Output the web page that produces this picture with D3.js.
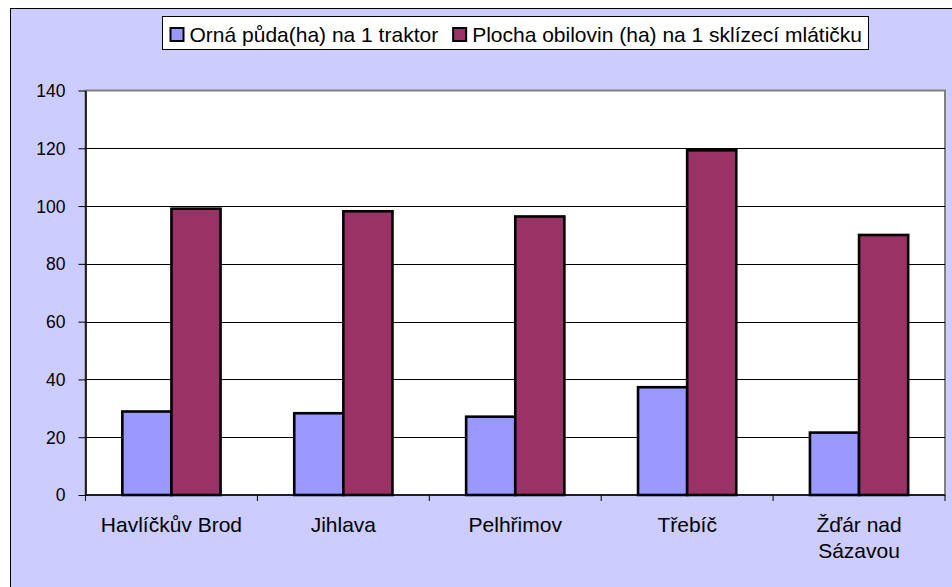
<!DOCTYPE html>
<html>
<head>
<meta charset="utf-8">
<script src="https://cdn.jsdelivr.net/npm/d3@7"></script>
<style>
  body { margin: 0; background: #fff; }
  text { font-family: "Liberation Sans", Arial, sans-serif; fill: #000; }
</style>
</head>
<body>
<div id="chart"></div>
<script>
const categories = ['Havlíčkův Brod', 'Jihlava', 'Pelhřimov', 'Třebíč', 'Žďár nad Sázavou'];
const seriesNames = ['Orná půda(ha) na 1 traktor', 'Plocha obilovin (ha) na 1 sklízecí mlátičku'];
const tractorArea = [28.9, 28.3, 27.1, 37.3, 21.6];   // ha per tractor
const grainArea = [99.1, 98.2, 96.4, 119.3, 90.0];     // ha per combine harvester
const yTicks = [0, 20, 40, 60, 80, 100, 120, 140];

const COLORS = ['#9999FF', '#993366'];

const width = 952, height = 587;
const plot = { left: 85.5, top: 90.5, right: 945, bottom: 495 };

const svg = d3.select('#chart').append('svg')
  .attr('width', width)
  .attr('height', height);

// chart area background (cropped on right and bottom)
svg.append('rect')
  .attr('x', 10.5).attr('y', 8.5)
  .attr('width', width + 10).attr('height', height + 10)
  .attr('fill', '#CCCCFF')
  .attr('stroke', '#000')
  .attr('stroke-width', 1);

// plot area
svg.append('rect')
  .attr('x', plot.left).attr('y', plot.top)
  .attr('width', plot.right - plot.left).attr('height', plot.bottom - plot.top)
  .attr('fill', '#fff')
  .attr('stroke', '#808080')
  .attr('stroke-width', 2);

const x = d3.scaleBand()
  .domain(categories)
  .range([plot.left, plot.right])
  .padding(0);

// Excel-like gap width 150%
const barW = x.step() / 3.5;
const x1 = d3.scaleBand()
  .domain([0, 1])
  .range([barW * 0.75, x.step() - barW * 0.75])
  .padding(0);

const y = d3.scaleLinear()
  .domain([0, 140])
  .range([plot.bottom, plot.top]);

// gridlines
svg.append('g')
  .selectAll('line')
  .data(yTicks.filter(d => d > 0 && d < 140))
  .join('line')
  .attr('x1', plot.left).attr('x2', plot.right)
  .attr('y1', d => Math.round(y(d)) + 0.5).attr('y2', d => Math.round(y(d)) + 0.5)
  .attr('stroke', '#000')
  .attr('stroke-width', 1);

// bars
const rows = categories.map((c, i) => ({ cat: c, values: [tractorArea[i], grainArea[i]] }));
svg.append('g')
  .selectAll('g')
  .data(rows)
  .join('g')
  .attr('transform', d => `translate(${x(d.cat)},0)`)
  .selectAll('rect')
  .data(d => d.values.map((v, k) => ({ k, v })))
  .join('rect')
  .attr('x', d => x1(d.k))
  .attr('y', d => y(d.v))
  .attr('width', x1.bandwidth())
  .attr('height', d => y(0) - y(d.v))
  .attr('fill', d => COLORS[d.k])
  .attr('stroke', '#000')
  .attr('stroke-width', 2.6);

// y axis
const yAxis = svg.append('g')
  .attr('transform', `translate(${plot.left},0)`)
  .call(d3.axisLeft(y).tickValues(yTicks).tickSize(7).tickPadding(13).tickSizeOuter(0));
yAxis.select('.domain').attr('stroke', '#000').attr('stroke-width', 1.5);
yAxis.selectAll('.tick line').attr('stroke', '#000');
yAxis.selectAll('.tick text')
  .attr('font-size', 17.5)
  .attr('font-family', '"Liberation Sans", Arial, sans-serif')
  .attr('dy', '0.34em');

// x axis: boundary ticks
svg.append('line')
  .attr('x1', plot.left).attr('x2', plot.right)
  .attr('y1', plot.bottom).attr('y2', plot.bottom)
  .attr('stroke', '#000').attr('stroke-width', 1.5);
const bounds = categories.map(c => x(c)).concat([x(categories[categories.length - 1]) + x.step()]);
svg.append('g')
  .selectAll('line')
  .data(bounds)
  .join('line')
  .attr('x1', d => d).attr('x2', d => d)
  .attr('y1', plot.bottom).attr('y2', plot.bottom + 6)
  .attr('stroke', '#000');

// x axis labels (wrapped)
function wrap(textSel, maxW) {
  textSel.each(function (d) {
    const t = d3.select(this);
    const words = d.split(' ');
    let line = [];
    let tspan = t.append('tspan').attr('x', t.attr('x')).attr('dy', 0);
    words.forEach(w => {
      line.push(w);
      tspan.text(line.join(' '));
      if (tspan.node().getComputedTextLength() > maxW && line.length > 1) {
        line.pop();
        tspan.text(line.join(' '));
        line = [w];
        tspan = t.append('tspan').attr('x', t.attr('x')).attr('dy', 26).text(w);
      }
    });
  });
}

svg.append('g')
  .selectAll('text')
  .data(categories)
  .join('text')
  .attr('x', d => x(d) + x.step() / 2)
  .attr('y', 532)
  .attr('text-anchor', 'middle')
  .attr('font-size', 21)
  .call(wrap, 152);

// legend
const legend = svg.append('g');
const legendItems = legend.selectAll('g')
  .data(seriesNames)
  .join('g');
legendItems.append('rect')
  .attr('width', 13).attr('height', 13)
  .attr('y', -13.5)
  .attr('fill', (d, i) => COLORS[i])
  .attr('stroke', '#000')
  .attr('stroke-width', 2);
legendItems.append('text')
  .attr('x', 19)
  .attr('font-size', 21)
  .text(d => d);

let cursor = 0;
const offsets = [];
legendItems.each(function () {
  offsets.push(cursor);
  cursor += 19 + d3.select(this).select('text').node().getComputedTextLength() + 15;
});
const contentW = cursor - 15;
const boxW = contentW + 8 + 7;
const boxX = Math.round((156 + 875) / 2 - boxW / 2);
legend.insert('rect', ':first-child')
  .attr('x', boxX + 0.5).attr('y', 16.5)
  .attr('width', Math.round(boxW)).attr('height', 33)
  .attr('fill', '#fff')
  .attr('stroke', '#000')
  .attr('stroke-width', 1);
legendItems.attr('transform', (d, i) => `translate(${boxX + 8.5 + offsets[i]},41.5)`);
</script>
</body>
</html>
